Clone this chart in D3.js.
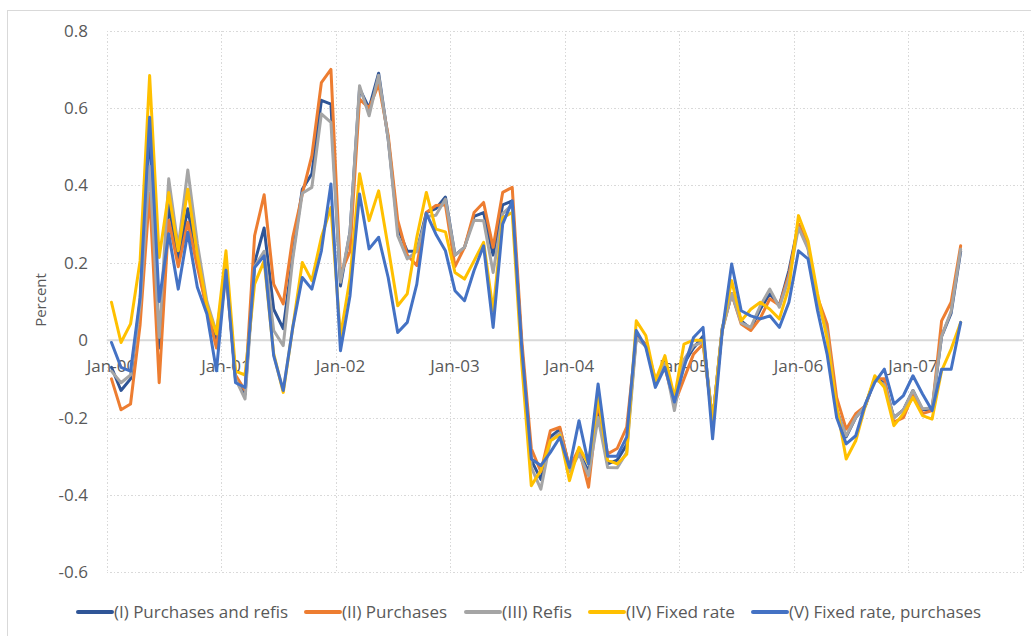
<!DOCTYPE html>
<meta charset="utf-8">
<head>
<title>Percent by series</title>
<style>
body { margin: 0; background: #fff; }
svg { font-family: "Open Sans", sans-serif; }
.grid line { stroke: #d9d9d9; stroke-width: 1; stroke-dasharray: 1.5,2; shape-rendering: crispEdges; }
.zero { stroke: #d9d9d9; stroke-width: 2; }
.tick-label { fill: #595959; font-size: 17px; }
.series { fill: none; stroke-width: 3; stroke-linejoin: round; stroke-linecap: round; }
.legend text { fill: #595959; font-size: 16px; }
</style>
</head>
<body>
<script src="https://cdn.jsdelivr.net/npm/d3@7"></script>
<script>

// Monthly values, Jan-00 .. Jun-07
var purchRefis = [-0.07,-0.13,-0.10,0.10,0.55,-0.02,0.35,0.21,0.34,0.20,0.08,0.00,
  0.20,-0.10,-0.14,0.20,0.29,0.08,0.03,0.22,0.39,0.43,0.62,0.61,
  0.14,0.28,0.65,0.60,0.69,0.52,0.29,0.23,0.23,0.33,0.34,0.37,
  0.22,0.24,0.32,0.33,0.22,0.35,0.36,-0.02,-0.31,-0.36,-0.25,-0.23,
  -0.33,-0.29,-0.34,-0.18,-0.32,-0.31,-0.27,0.01,-0.01,-0.11,-0.05,-0.17,
  -0.06,-0.02,0.01,-0.21,0.03,0.12,0.05,0.03,0.08,0.12,0.09,0.18,
  0.30,0.24,0.10,0.02,-0.18,-0.25,-0.20,-0.17,-0.10,-0.11,-0.20,-0.18,
  -0.13,-0.18,-0.18,0.01,0.07,0.23];
var purchases = [-0.10,-0.18,-0.165,0.04,0.38,-0.11,0.31,0.19,0.305,0.19,0.08,-0.02,
  0.17,-0.09,-0.13,0.27,0.376,0.145,0.094,0.266,0.378,0.477,0.666,0.70,
  0.17,0.23,0.623,0.60,0.662,0.53,0.31,0.22,0.193,0.33,0.348,0.35,
  0.19,0.24,0.33,0.356,0.24,0.382,0.395,0.0,-0.28,-0.34,-0.234,-0.225,
  -0.33,-0.28,-0.38,-0.16,-0.294,-0.28,-0.225,0.007,-0.01,-0.10,-0.07,-0.165,
  -0.10,-0.036,-0.01,-0.21,0.025,0.12,0.042,0.025,0.057,0.107,0.09,0.17,
  0.30,0.24,0.11,0.042,-0.148,-0.23,-0.19,-0.17,-0.10,-0.10,-0.212,-0.20,
  -0.14,-0.19,-0.182,0.05,0.098,0.244];
var refis = [-0.08,-0.11,-0.09,0.09,0.45,0.007,0.417,0.24,0.44,0.25,0.10,0.02,
  0.19,-0.10,-0.152,0.19,0.23,0.025,-0.014,0.21,0.38,0.395,0.585,0.563,
  0.15,0.28,0.658,0.58,0.685,0.52,0.27,0.21,0.23,0.32,0.323,0.365,
  0.22,0.24,0.31,0.309,0.175,0.327,0.35,-0.03,-0.329,-0.385,-0.26,-0.24,
  -0.34,-0.294,-0.35,-0.20,-0.329,-0.33,-0.29,0.005,-0.015,-0.105,-0.06,-0.182,
  -0.05,-0.014,-0.005,-0.21,0.025,0.12,0.045,0.033,0.089,0.132,0.085,0.16,
  0.291,0.236,0.10,0.02,-0.182,-0.247,-0.20,-0.17,-0.10,-0.115,-0.20,-0.18,
  -0.13,-0.177,-0.175,0.01,0.075,0.235];
var fixedRate = [0.098,-0.006,0.042,0.205,0.684,0.214,0.382,0.231,0.39,0.22,0.09,0.016,
  0.231,-0.08,-0.09,0.145,0.205,-0.035,-0.135,0.033,0.201,0.154,0.266,0.343,
  0.01,0.16,0.43,0.309,0.386,0.24,0.089,0.12,0.266,0.382,0.287,0.28,
  0.175,0.158,0.205,0.253,0.076,0.317,0.33,-0.06,-0.376,-0.337,-0.26,-0.245,
  -0.363,-0.277,-0.32,-0.148,-0.31,-0.32,-0.295,0.05,0.012,-0.105,-0.04,-0.148,
  -0.01,0.0,0.0,-0.21,0.025,0.154,0.05,0.08,0.098,0.08,0.055,0.137,
  0.322,0.257,0.12,0.003,-0.17,-0.307,-0.26,-0.17,-0.092,-0.122,-0.221,-0.19,
  -0.148,-0.195,-0.204,-0.079,-0.023,0.046];
var fixedPurch = [-0.006,-0.07,-0.08,0.11,0.576,0.10,0.275,0.132,0.279,0.137,0.068,-0.079,
  0.181,-0.11,-0.122,0.188,0.218,-0.04,-0.13,0.033,0.162,0.132,0.231,0.404,
  -0.027,0.115,0.378,0.236,0.266,0.162,0.02,0.046,0.145,0.328,0.274,0.231,
  0.128,0.102,0.18,0.244,0.033,0.30,0.36,-0.02,-0.307,-0.324,-0.29,-0.251,
  -0.329,-0.208,-0.32,-0.113,-0.30,-0.30,-0.25,0.025,-0.018,-0.122,-0.07,-0.16,
  -0.07,0.007,0.033,-0.255,0.02,0.197,0.076,0.063,0.055,0.063,0.033,0.098,
  0.231,0.21,0.076,-0.036,-0.20,-0.268,-0.247,-0.165,-0.109,-0.075,-0.165,-0.143,
  -0.092,-0.139,-0.182,-0.075,-0.075,0.046];

var seriesNames = ["(I) Purchases and refis", "(II) Purchases", "(III) Refis", "(IV) Fixed rate", "(V) Fixed rate, purchases"];
var seriesColors = ["#2f5597", "#ed7d31", "#a5a5a5", "#ffc000", "#4472c4"];
var yearLabels = ["Jan-00", "Jan-01", "Jan-02", "Jan-03", "Jan-04", "Jan-05", "Jan-06", "Jan-07"];
var yTicks = [-0.6, -0.4, -0.2, 0, 0.2, 0.4, 0.6, 0.8];
var nCategories = 96;   // Jan-00 .. Dec-07 on the axis

var allSeries = [purchRefis, purchases, refis, fixedRate, fixedPurch];

var W = 1031, H = 636;
var svg = d3.select("body").append("svg")
    .attr("width", W)
    .attr("height", H);

// chart border
svg.append("rect")
    .attr("x", 7.5).attr("y", 10.5)
    .attr("width", 1040).attr("height", 640)
    .attr("fill", "none")
    .attr("stroke", "#d9d9d9");

var x = d3.scaleLinear().domain([0, nCategories]).range([106.7, 1022.7]);
var y = d3.scaleLinear().domain([-0.6, 0.8]).range([572.3, 30.7]);

// gridlines
var grid = svg.append("g").attr("class", "grid");
grid.selectAll(".h")
    .data(yTicks.filter(function(d) { return d !== 0; }))
    .enter().append("line")
    .attr("x1", x(0)).attr("x2", x(nCategories))
    .attr("y1", function(d) { return Math.round(y(d)) + 0.5; })
    .attr("y2", function(d) { return Math.round(y(d)) + 0.5; });
grid.selectAll(".v")
    .data(d3.range(0, nCategories + 1, 12))
    .enter().append("line")
    .attr("x1", function(d) { return Math.round(x(d)) + 0.5; })
    .attr("x2", function(d) { return Math.round(x(d)) + 0.5; })
    .attr("y1", y(0.8)).attr("y2", y(-0.6));

// zero axis
svg.append("line")
    .attr("class", "zero")
    .attr("x1", x(0)).attr("x2", x(nCategories))
    .attr("y1", y(0)).attr("y2", y(0));

// y tick labels
svg.selectAll(".ylab")
    .data(yTicks)
    .enter().append("text")
    .attr("class", "tick-label")
    .attr("x", 88)
    .attr("y", function(d) { return y(d); })
    .attr("dy", "0.35em")
    .attr("text-anchor", "end")
    .text(function(d) { return d === 0 ? "0" : d.toFixed(1); });

// x tick labels, one per January
svg.selectAll(".xlab")
    .data(yearLabels)
    .enter().append("text")
    .attr("class", "tick-label")
    .attr("x", function(d, i) { return x(i * 12 + 0.5); })
    .attr("y", y(0) + 26)
    .attr("dy", "0.35em")
    .attr("text-anchor", "middle")
    .text(function(d) { return d; });

// y title
svg.append("text")
    .attr("class", "tick-label")
    .attr("transform", "translate(46,300) rotate(-90)")
    .attr("text-anchor", "middle")
    .style("font-size", "15px")
    .text("Percent");

// series lines
var line = d3.line()
    .x(function(d, i) { return x(i + 0.5); })
    .y(function(d) { return y(d); });

svg.selectAll(".series")
    .data(allSeries)
    .enter().append("path")
    .attr("class", "series")
    .attr("stroke", function(d, i) { return seriesColors[i]; })
    .attr("d", line);

// legend
var legendX = [78, 306, 466, 590, 753],
    legendW = [174, 105, 70, 109, 192],
    legendY = 612;

var legend = svg.append("g").attr("class", "legend")
    .selectAll("g")
    .data(seriesNames)
    .enter().append("g")
    .attr("transform", function(d, i) { return "translate(" + legendX[i] + "," + legendY + ")"; });

legend.append("line")
    .attr("x1", 0).attr("x2", 34)
    .attr("y1", 0).attr("y2", 0)
    .attr("stroke-width", 4)
    .attr("stroke-linecap", "round")
    .attr("stroke", function(d, i) { return seriesColors[i]; });

legend.append("text")
    .attr("x", 36)
    .attr("dy", "0.35em")
    .attr("textLength", function(d, i) { return legendW[i]; })
    .attr("lengthAdjust", "spacingAndGlyphs")
    .text(function(d) { return d; });

</script>
</body>
